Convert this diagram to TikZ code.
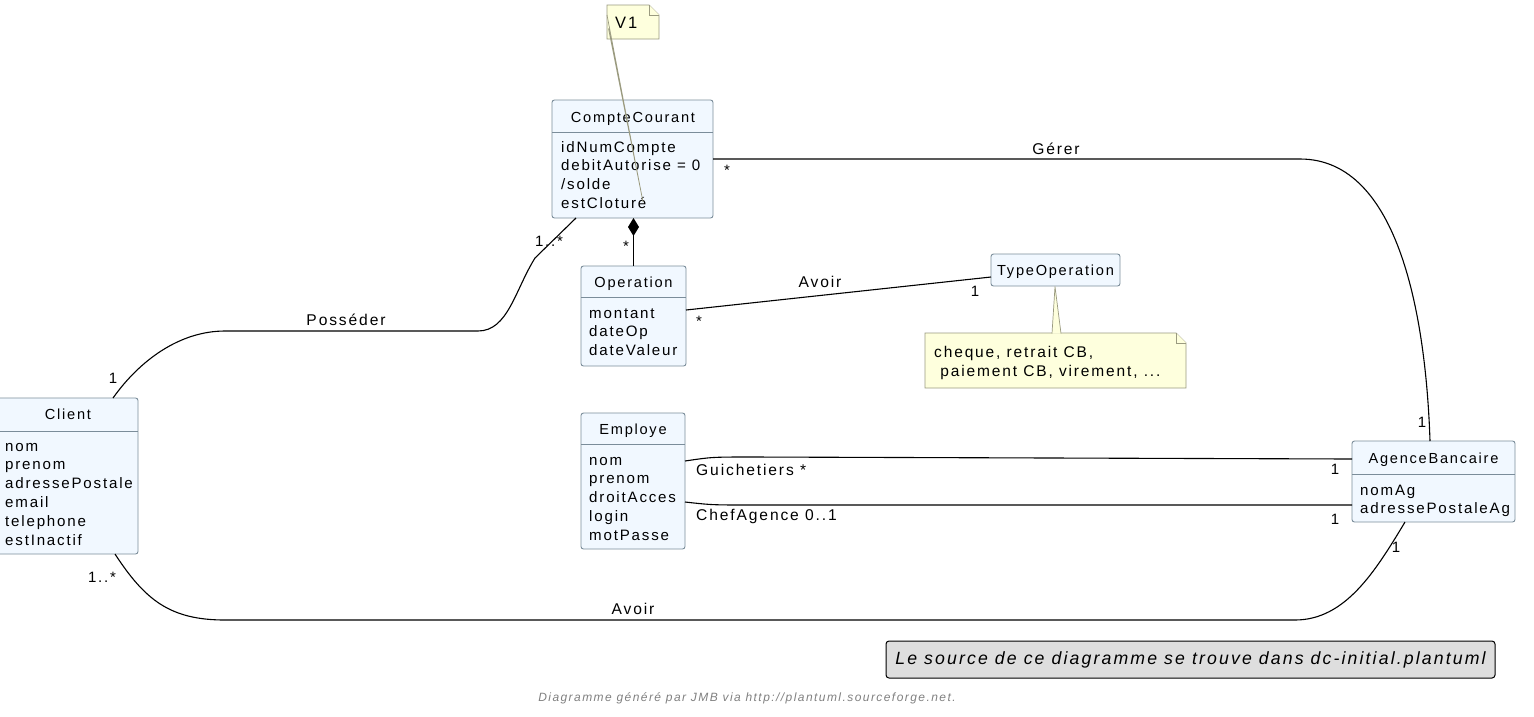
\documentclass[tikz,border=0pt]{standalone}
\usepackage{fontspec}
\usetikzlibrary{arrows.meta}
\newfontfamily\umlfont[LetterSpace=12]{Liberation Sans}

\definecolor{classfill}{HTML}{F1F8FF}
\definecolor{classborder}{HTML}{7B8D9A}
\definecolor{notefill}{HTML}{FEFFDD}
\definecolor{noteborder}{HTML}{9A9A80}

\tikzset{
    classbox/.style={draw=classborder, fill=classfill, line width=0.9pt, rounded corners=2.5pt,
        anchor=north west, outer sep=0pt, inner sep=0pt},
    classline/.style={draw=classborder, line width=0.9pt},
    classname/.style={font=\umlfont\fontsize{14.6}{16}\selectfont, anchor=base, inner sep=0pt},
    attr/.style={font=\umlfont\fontsize{15.1}{18}\selectfont, anchor=base west, inner sep=0pt},
    assoc/.style={draw=black, line width=1.1pt},
    rolelabel/.style={font=\umlfont\fontsize{15.6}{18}\selectfont, anchor=base, inner sep=0pt},
    mult/.style={font=\umlfont\fontsize{15}{16}\selectfont, anchor=base, inner sep=0pt},
    notebox/.style={draw=noteborder, fill=notefill, line width=0.8pt},
    notetext/.style={font=\umlfont\fontsize{15.5}{19}\selectfont, anchor=base west, inner sep=0pt}
}

\begin{document}
\begin{tikzpicture}[x=1pt,y=-1pt]
    \useasboundingbox (0,0) rectangle (1534,716);

    % notes
    \draw[notebox] (607,5) -- (649,5) -- (659,15) -- (659,39) -- (607,39) -- cycle;
    \draw[notebox] (649,5) -- (649,15) -- (659,15);
    \node[notetext, font=\umlfont\fontsize{16.5}{19}\selectfont] (v1) at (615,28) {V1};

    \draw[notebox] (925,333) -- (1176,333) -- (1186,343) -- (1186,388) -- (925,388) -- cycle;
    \draw[notebox] (1176,333) -- (1176,343) -- (1186,343);
    \node[notetext] (typenote1) at (934,357) {cheque, retrait CB,};
    \node[notetext] (typenote2) at (934,376) {\ paiement CB, virement, ...};

    % classes
    \node[classbox, minimum width=161pt, minimum height=118pt] (compte) at (552,100) {};
    \draw[classline] (compte.west |- 0,132) -- (compte.east |- 0,132);
    \node[classname] (compte-t) at (633,122) {CompteCourant};
    \foreach \a [count=\i] in {idNumCompte, debitAutorise = 0, /solde, estCloturé}
        \node[attr] (compte-a\i) at (561,{133.2+\i*18.8}) {\a};

    \node[classbox, minimum width=105pt, minimum height=100pt] (operation) at (581,266) {};
    \draw[classline] (operation.west |- 0,297) -- (operation.east |- 0,297);
    \node[classname] (operation-t) at (633.5,287) {Operation};
    \foreach \a [count=\i] in {montant, dateOp, dateValeur}
        \node[attr] (operation-a\i) at (589,{299.2+\i*18.8}) {\a};

    \node[classbox, minimum width=129pt, minimum height=32pt] (typeop) at (991,254) {};
    \node[classname] (typeop-t) at (1055.5,275) {TypeOperation};

    \node[classbox, minimum width=141pt, minimum height=156pt] (client) at (-3,398) {};
    \draw[classline] (client.west |- 0,431) -- (client.east |- 0,431);
    \node[classname] (client-t) at (68,419) {Client};
    \foreach \a [count=\i] in {nom, prenom, adressePostale, email, telephone, estInactif}
        \node[attr] (client-a\i) at (5,{432.2+\i*18.8}) {\a};

    \node[classbox, minimum width=104pt, minimum height=136pt] (employe) at (581,413) {};
    \draw[classline] (employe.west |- 0,444) -- (employe.east |- 0,444);
    \node[classname] (employe-t) at (633,434) {Employe};
    \foreach \a [count=\i] in {nom, prenom, droitAcces, login, motPasse}
        \node[attr] (employe-a\i) at (589,{446.2+\i*18.8}) {\a};

    \node[classbox, minimum width=163pt, minimum height=81pt] (agence) at (1352,441) {};
    \draw[classline] (agence.west |- 0,474) -- (agence.east |- 0,474);
    \node[classname] (agence-t) at (1433.5,463) {AgenceBancaire};
    \foreach \a [count=\i] in {nomAg, adressePostaleAg}
        \node[attr] (agence-a\i) at (1360,{476.2+\i*18.8}) {\a};

    % note links
    \draw[noteborder, fill=notefill, line width=0.7pt] (607,15) -- (643,202) -- (608.5,28.5);
    \draw[noteborder, fill=notefill, line width=0.7pt] (1052,333.5) -- (1055,286.5) -- (1061,333.5);

    % associations
    \draw[assoc] ([yshift=-59pt]compte.north east) -- (1300,159)
        .. controls (1400,159) and (1426,320) .. ([xshift=78pt]agence.north west);
    \node[rolelabel] (gerer) at (1056,154) {Gérer};
    \node[mult] (gerer-m1) at (727,175) {*};
    \node[mult] (gerer-m2) at (1422,427) {1};

    \draw[assoc] ([xshift=116pt]client.north west) .. controls (140,360) and (180,331) .. (225,331)
        -- (478,331) .. controls (508,331) and (515,290) .. (535,258) -- ([xshift=24pt]compte.south west);
    \node[rolelabel] (posseder) at (346,325) {Posséder};
    \node[mult] (posseder-m1) at (113,383) {1};
    \node[mult] (posseder-m2) at (549,246) {1..*};

    \draw[assoc, -{Diamond[length=18pt,width=11pt]}] (operation.north) -- (operation.north |- compte.south);
    \node[mult] (compo-m) at (626,251) {*};

    \draw[assoc] ([yshift=-44pt]operation.north east) -- ([yshift=-23pt]typeop.north west);
    \node[rolelabel] (avoir1) at (820,287) {Avoir};
    \node[mult] (avoir1-m1) at (699,326) {*};
    \node[mult] (avoir1-m2) at (975,296) {1};

    \draw[assoc] ([yshift=-48pt]employe.north east) .. controls (712,457) .. (752,457)
        -- ([yshift=-18pt]agence.north west);
    \node[rolelabel, anchor=base west] (guichet) at (696,475) {Guichetiers *};
    \node[mult] (guichet-m) at (1335,474) {1};

    \draw[assoc] ([yshift=-89pt]employe.north east) .. controls (712,505) .. (752,505)
        -- ([yshift=-64pt]agence.north west);
    \node[rolelabel, anchor=base west] (chef) at (696,520) {ChefAgence 0..1};
    \node[mult] (chef-m) at (1335,524) {1};

    \draw[assoc] ([xshift=118pt]client.south west) .. controls (145,600) and (170,620) .. (225,620)
        -- (1295,620) .. controls (1345,620) and (1375,572) .. ([xshift=53pt]agence.south west);
    \node[rolelabel] (avoir2) at (633,614) {Avoir};
    \node[mult] (avoir2-m1) at (102,582) {1..*};
    \node[mult] (avoir2-m2) at (1396,552) {1};

    % footer
    \node[draw=black, fill=black!13, line width=1pt, rounded corners=3pt, minimum width=609pt,
        minimum height=37pt, font=\umlfont\fontsize{17.7}{20}\selectfont\itshape] (footer) at (1190.5,659.5)
        {Le source de ce diagramme se trouve dans dc-initial.plantuml};
    \node[font=\umlfont\fontsize{12}{14}\selectfont\itshape, text=black!50] (credit) at (747,698)
        {Diagramme généré par JMB via http://plantuml.sourceforge.net.};
\end{tikzpicture}
\end{document}
